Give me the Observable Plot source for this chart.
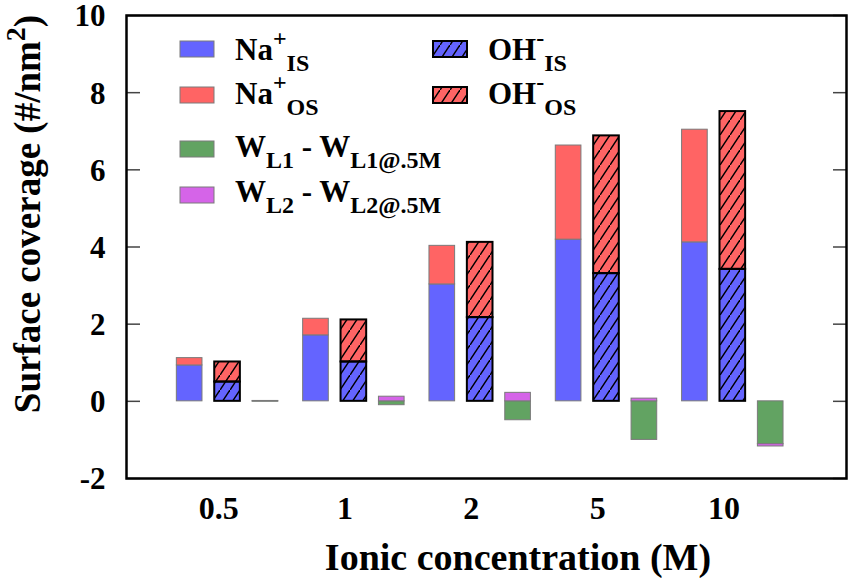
<!DOCTYPE html>
<html><head><meta charset="utf-8">
<script src="https://cdn.jsdelivr.net/npm/d3@7"></script>
<script src="https://cdn.jsdelivr.net/npm/@observablehq/plot@0.6"></script>
<style>body{margin:0;background:#fff} svg{display:block}</style>
</head><body><div id="chart"></div>
<script>
// ---- data ----
const concentrations = ["0.5", "1", "2", "5", "10"];
const naIS = [0.93, 1.71, 3.03, 4.19, 4.12];
const naOS = [0.19, 0.43, 1.00, 2.44, 2.92];
const ohIS = [0.50, 1.02, 2.17, 3.31, 3.42];
const ohOS = [0.52, 1.09, 1.95, 3.57, 4.09];
const wL1 = [-0.01, -0.10, -0.49, -1.00, -1.11];
const wL2 = [0.01, 0.12, 0.22, 0.07, -0.06];
const yTicks = [-2, 0, 2, 4, 6, 8, 10];

const seriesKeys = ["NaIS", "NaOS", "OHIS", "OHOS", "WL1", "WL2"];
const seriesColors = ["#6464ff", "#ff6464", "#6464ff", "#ff6464", "#62a362", "#d564e8"];

// bar slots within a cluster, in cluster units
const barOffsets = {Na: -0.3, OH: 0, W: 0.3};
const halfWidth = 0.1015;
const labelOffset = -0.07;

const rows = [];
concentrations.forEach((c, i) => {
  const push = (bar, series, value) => rows.push({
    conc: c, bar, series, value,
    x1: i + barOffsets[bar] - halfWidth,
    x2: i + barOffsets[bar] + halfWidth
  });
  push("Na", "NaIS", naIS[i]); push("Na", "NaOS", naOS[i]);
  push("OH", "OHIS", ohIS[i]); push("OH", "OHOS", ohOS[i]);
  push("W", "WL1", wL1[i]); push("W", "WL2", wL2[i]);
});
const solidRows = rows.filter(d => d.bar !== "OH");
const hatchRows = rows.filter(d => d.bar === "OH");

const FONT = "Liberation Serif, Times New Roman, serif";

const plot = Plot.plot({
  width: 850, height: 578,
  marginLeft: 126, marginRight: 4, marginTop: 15, marginBottom: 100,
  style: {fontFamily: FONT, fontSize: "31px", fontWeight: "bold", color: "black", background: "white"},
  x: {domain: [-0.8, 4.9], axis: null},
  y: {domain: [-2, 10], axis: null},
  color: {domain: seriesKeys, range: seriesColors},
  marks: [
    Plot.rectY(solidRows, Plot.stackY({x1: "x1", x2: "x2", y: "value", fill: "series", stroke: "#7a7a7a", strokeWidth: 1})),
    Plot.rectY(hatchRows, Plot.stackY({x1: "x1", x2: "x2", y: "value", fill: "series"})),
    Plot.rectY(hatchRows, Plot.stackY({x1: "x1", x2: "x2", y: "value", fill: "url(#hatch)", stroke: "black", strokeWidth: 2})),
    Plot.axisY(yTicks, {anchor: "left", tickSize: 0, tickPadding: 21, tickFormat: d => String(d), label: null, fontSize: 31, dy: 1}),
    Plot.axisY(yTicks, {anchor: "left", tickSize: -14, tickFormat: () => "", label: null, stroke: "#444", strokeWidth: 1.5}),
    Plot.axisY(yTicks, {anchor: "right", tickSize: -14, tickFormat: () => "", label: null, stroke: "#444", strokeWidth: 1.5}),
    Plot.text(concentrations, {x: (d, i) => i + labelOffset, frameAnchor: "bottom", dy: 40, text: d => d, fontSize: 32}),
    Plot.frame({stroke: "black", strokeWidth: 2.5})
  ]
});

const svg = d3.select(plot);
// hatch pattern
const defs = svg.insert("defs", ":first-child");
const pat = defs.append("pattern").attr("id", "hatch").attr("patternUnits", "userSpaceOnUse")
  .attr("width", 10).attr("height", 15);
pat.append("path").attr("d", "M-2.5,18.75 L12.5,-3.75").attr("stroke", "black").attr("stroke-width", 1.5).attr("fill", "none");

// axis titles
svg.append("text").attr("x", 518).attr("y", 570).attr("text-anchor", "middle")
  .attr("font-family", FONT).attr("font-weight", "bold").attr("font-size", 38)
  .text("Ionic concentration (M)");
const yt = svg.append("text").attr("transform", "translate(40,214) rotate(-90)").attr("text-anchor", "middle")
  .attr("font-family", FONT).attr("font-weight", "bold").attr("font-size", 37);
yt.append("tspan").text("Surface coverage (#/nm");
yt.append("tspan").attr("dy", -15).attr("font-size", 28).text("2");
yt.append("tspan").attr("dy", 15).text(")");

// legend
const legendItems = [
  {x: 180, y: 49, base: 60, fill: seriesColors[0], hatch: false, parts: [["Na", "m"], ["+", "p"], ["IS", "b"]]},
  {x: 180, y: 95, base: 104, fill: seriesColors[1], hatch: false, parts: [["Na", "m"], ["+", "p"], ["OS", "b"]]},
  {x: 180, y: 149, base: 157, fill: seriesColors[4], hatch: false, parts: [["W", "m"], ["L1", "b"], [" - W", "m"], ["L1@.5M", "b"]]},
  {x: 180, y: 195, base: 202, fill: seriesColors[5], hatch: false, parts: [["W", "m"], ["L2", "b"], [" - W", "m"], ["L2@.5M", "b"]]},
  {x: 433, y: 49, base: 60, fill: seriesColors[2], hatch: true, parts: [["OH", "m"], ["-", "p"], ["IS", "b"]]},
  {x: 433, y: 95, base: 104, fill: seriesColors[3], hatch: true, parts: [["OH", "m"], ["-", "p"], ["OS", "b"]]}
];
const lg = svg.append("g").attr("font-family", FONT).attr("font-weight", "bold").attr("text-anchor", "start");
const shifts = {m: 0, p: -14, b: 11};
const sizes = {m: 31, p: 24, b: 24};
legendItems.forEach(it => {
  lg.append("rect").attr("x", it.x).attr("y", it.y - 8).attr("width", 34).attr("height", 16)
    .attr("fill", it.fill).attr("stroke", it.hatch ? "black" : "#7a7a7a").attr("stroke-width", it.hatch ? 2 : 1);
  if (it.hatch) lg.append("rect").attr("x", it.x).attr("y", it.y - 8).attr("width", 34).attr("height", 16)
    .attr("fill", "url(#hatch)").attr("stroke", "black").attr("stroke-width", 2);
  const t = lg.append("text").attr("x", it.x + 55).attr("y", it.base).attr("font-size", 31).attr("text-anchor", "start");
  let cur = 0;
  it.parts.forEach(([s, k]) => {
    t.append("tspan").attr("dy", shifts[k] - cur).attr("font-size", sizes[k]).text(s);
    cur = shifts[k];
  });
});

document.getElementById("chart").append(plot);
</script>
</body></html>
